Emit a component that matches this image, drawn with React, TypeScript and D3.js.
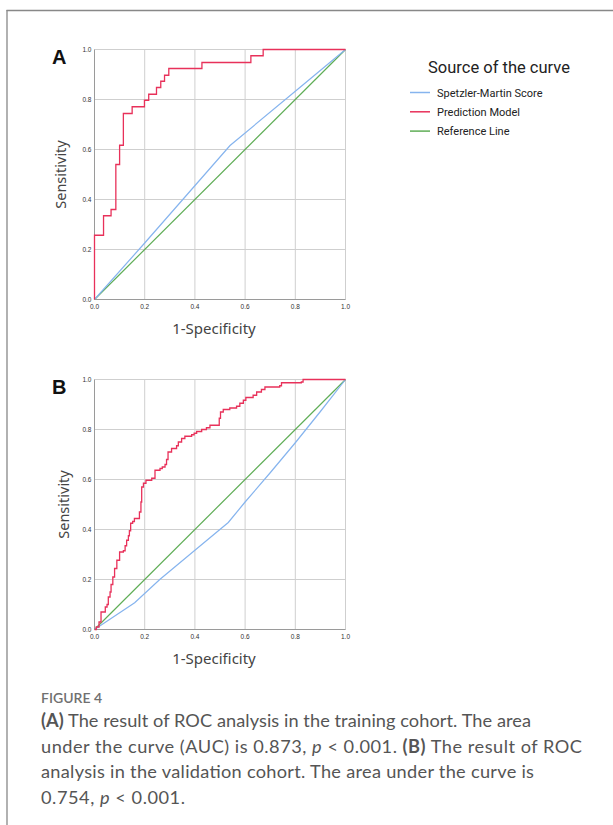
import * as d3 from 'd3';
import React from 'react';

// ROC points: [1 - specificity, sensitivity]
const trainModel: [number, number][] = [
  [0, 0], [0, 0.257], [0.036, 0.335], [0.066, 0.36], [0.085, 0.54], [0.1, 0.617],
  [0.115, 0.744], [0.15, 0.771], [0.199, 0.797], [0.216, 0.821], [0.247, 0.848],
  [0.264, 0.873], [0.279, 0.897], [0.296, 0.924], [0.428, 0.948], [0.623, 0.975],
  [0.672, 1], [1, 1],
];
const trainSM: [number, number][] = [[0, 0], [0.2, 0.226], [0.54, 0.616], [0.8, 0.833], [1, 1]];

const validModel: [number, number][] = [
  [0, 0], [0.007, 0.01], [0.018, 0.03], [0.026, 0.07], [0.043, 0.09], [0.05, 0.1],
  [0.055, 0.13], [0.062, 0.15], [0.066, 0.18], [0.073, 0.21], [0.08, 0.244],
  [0.089, 0.277], [0.1, 0.31], [0.115, 0.315], [0.122, 0.335], [0.128, 0.357],
  [0.135, 0.375], [0.139, 0.395], [0.144, 0.425], [0.152, 0.432], [0.159, 0.444],
  [0.179, 0.47], [0.185, 0.51], [0.188, 0.57], [0.195, 0.585], [0.205, 0.597],
  [0.228, 0.605], [0.241, 0.637], [0.261, 0.644], [0.27, 0.65], [0.281, 0.66],
  [0.287, 0.68], [0.293, 0.71], [0.307, 0.724], [0.327, 0.735], [0.334, 0.75],
  [0.347, 0.764], [0.36, 0.773], [0.387, 0.779], [0.397, 0.785], [0.407, 0.792],
  [0.427, 0.8], [0.446, 0.807], [0.46, 0.817], [0.497, 0.845], [0.502, 0.87],
  [0.513, 0.88], [0.539, 0.886], [0.566, 0.893], [0.579, 0.905], [0.593, 0.917],
  [0.603, 0.928], [0.632, 0.937], [0.646, 0.95], [0.665, 0.96], [0.679, 0.97],
  [0.738, 0.975], [0.745, 0.987], [0.824, 0.99], [0.831, 1], [1, 1],
];
const validSM: [number, number][] = [
  [0, 0], [0.16, 0.107], [0.26, 0.2], [0.4, 0.317], [0.533, 0.428], [0.6, 0.51],
  [0.7, 0.627], [0.8, 0.747], [0.9, 0.872], [1, 1],
];
const refLine: [number, number][] = [[0, 0], [1, 1]];

const ticks = [0, 0.2, 0.4, 0.6, 0.8, 1.0];
const legendNames = ['Spetzler-Martin Score', 'Prediction Model', 'Reference Line'];
const colors = { sm: '#86b4ee', model: '#e8315a', ref: '#5fad56' };

const captionLines = [
  [{ t: '(A)', b: true }, { t: ' The result of ROC analysis in the training cohort. The area' }],
  [{ t: 'under the curve (AUC) is 0.873, ' }, { t: 'p', i: true }, { t: ' < 0.001. ' }, { t: '(B)', b: true }, { t: ' The result of ROC' }],
  [{ t: 'analysis in the validation cohort. The area under the curve is' }],
  [{ t: '0.754, ' }, { t: 'p', i: true }, { t: ' < 0.001.' }],
];
const captionWidths = [490, 541, 493, 144];

const Panel = ({ top, letter, model, sm, ylabX }: any) => {
  const x = d3.scaleLinear().domain([0, 1]).range([94.5, 345.5]);
  const y = d3.scaleLinear().domain([0, 1]).range([top + 250, top]);
  const step = d3.line().x((d) => x(d[0])).y((d) => y(d[1])).curve(d3.curveStepAfter);
  const line = d3.line().x((d) => x(d[0])).y((d) => y(d[1]));
  return (
    <g>
      <text x={52} y={top + 14} fontFamily="Liberation Sans, Arial" fontWeight="bold" fontSize={20} fill="#111">{letter}</text>
      {ticks.map((t) => (
        <g key={t}>
          <line x1={x(t)} x2={x(t)} y1={y(0)} y2={y(1)} stroke="#cfcfcf" />
          <line x1={x(0)} x2={x(1)} y1={y(t)} y2={y(t)} stroke="#cfcfcf" />
          <text x={x(0) - 3} y={y(t) + 2} fontSize={6.5} textAnchor="end" fill="#333" fontFamily="Liberation Sans, Arial">{t.toFixed(1)}</text>
          <text x={x(t)} y={y(0) + 9.5} fontSize={6.5} textAnchor="middle" fill="#333" fontFamily="Liberation Sans, Arial">{t.toFixed(1)}</text>
        </g>
      ))}
      <line x1={x(0)} x2={x(0)} y1={y(0)} y2={y(1)} stroke="#9a9a9a" />
      <line x1={x(0)} x2={x(1)} y1={y(0)} y2={y(0)} stroke="#9a9a9a" />
      <path d={line(refLine) || ''} fill="none" stroke={colors.ref} strokeWidth={1.2} />
      <path d={line(sm) || ''} fill="none" stroke={colors.sm} strokeWidth={1.2} />
      <path d={step(model) || ''} fill="none" stroke={colors.model} strokeWidth={1.3} />
      <text transform={`translate(${ylabX},${top + 125}) rotate(-90)`} textAnchor="middle" fontSize={14.5} fill="#444" fontFamily="Noto Sans, sans-serif">Sensitivity</text>
      <text x={214} y={top + 284} textAnchor="middle" fontSize={15} fill="#444" fontFamily="Noto Sans, sans-serif">1-Specificity</text>
    </g>
  );
};

export default function App() {
  const legendColors = [colors.sm, colors.model, colors.ref];
  return (
    <svg width={613} height={825} style={{ position: 'absolute', left: 0, top: 0, background: '#fff' }}>
      <line x1={6.5} x2={613} y1={10.5} y2={10.5} stroke="#888" strokeWidth={1.3} />
      <line x1={7} x2={7} y1={10} y2={825} stroke="#888" strokeWidth={1.3} />
      <Panel top={49.5} letter="A" model={trainModel} sm={trainSM} ylabX={66} />
      <Panel top={379.5} letter="B" model={validModel} sm={validSM} ylabX={69} />
      <text x={499} y={73} textAnchor="middle" fontSize={16.5} fill="#222" fontFamily="Roboto, sans-serif">Source of the curve</text>
      {legendNames.map((n, i) => (
        <g key={n}>
          <line x1={410} x2={430} y1={92.5 + i * 19.3} y2={92.5 + i * 19.3} stroke={legendColors[i]} strokeWidth={1.5} />
          <text x={437} y={96.5 + i * 19.3} fontSize={11} fill="#222" fontFamily="Roboto, sans-serif">{n}</text>
        </g>
      ))}
      <text x={41} y={703} fontSize={14} fontWeight={600} fill="#707070" fontFamily="Lato, sans-serif">FIGURE 4</text>
      {captionLines.map((ln, i) => (
        <text key={i} x={41} y={727 + i * 25.6} fontSize={18.2} fill="#555" fontFamily="Lato, sans-serif"
          textLength={captionWidths[i]} lengthAdjust="spacing">
          {ln.map((s: any, j: number) => (
            <tspan key={j} fontWeight={s.b ? 'bold' : 'normal'} fontStyle={s.i ? 'italic' : 'normal'}>{s.t}</tspan>
          ))}
        </text>
      ))}
    </svg>
  );
}
